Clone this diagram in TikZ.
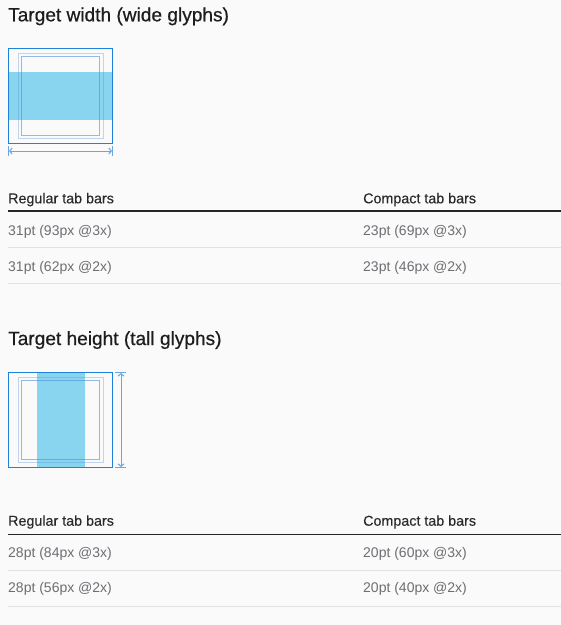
\documentclass[tikz,border=0pt]{standalone}
\usepackage{fontspec}
\setmainfont{Liberation Sans}
\newfontfamily\titlefont[FakeBold=0.6]{Liberation Sans}
\newfontfamily\headfont[FakeBold=0.25]{Liberation Sans}
\usetikzlibrary{arrows.meta}
\definecolor{bg}{HTML}{FAFAFA}
\definecolor{titlec}{HTML}{1D1D1F}
\definecolor{headc}{HTML}{2A2A2C}
\definecolor{rowc}{HTML}{6E6E73}
\definecolor{sepc}{HTML}{E2E2E4}
\definecolor{boxblue}{HTML}{1E82DC}
\definecolor{bandc}{HTML}{89D4EE}
\definecolor{innerblue}{HTML}{4F8FDB}
\definecolor{dimblue}{HTML}{6AA6E2}
\tikzset{
  title/.style={anchor=base west, inner sep=0pt, text=titlec, font=\titlefont\fontsize{19.1}{21}\selectfont},
  colhead/.style={anchor=base west, inner sep=0pt, text=headc, font=\headfont\fontsize{14.3}{16}\selectfont},
  cell/.style={anchor=base west, inner sep=0pt, text=rowc, font=\fontsize{14}{16}\selectfont},
  headrule/.style={draw=black!85, line width=1.2pt},
  seprule/.style={draw=sepc, line width=1pt},
  outerbox/.style={draw=boxblue, line width=1pt},
  band/.style={fill=bandc},
  ring1/.style={draw=innerblue, draw opacity=0.35, line width=1pt},
  ring2/.style={draw=innerblue, draw opacity=0.6, line width=1pt},
  dimline/.style={draw=dimblue, line width=1pt},
  dimarrow/.style={dimline, {Straight Barb[length=2.5pt,width=6pt]}-{Straight Barb[length=2.5pt,width=6pt]}},
}
\begin{document}
\begin{tikzpicture}[x=1pt,y=-1pt]
\fill[bg] (0,0) rectangle (561,625);
\useasboundingbox (0,0) rectangle (561,625);

% ---------- Section 1 ----------
\node[title] (t1) at (8,21.3) {Target width (wide glyphs)};
\fill[band] (8,72) rectangle (113,119.5);
\draw[ring1] (18,53.5) rectangle (103,138.5);
\draw[ring2] (21.5,56.5) rectangle (99.5,135);
\draw[outerbox] (8.5,48.5) rectangle (112.5,143.5);
\coordinate (w1) at (9,151);
\coordinate (w2) at (112,151);
\draw[dimline] (8.5,146) -- (8.5,156);
\draw[dimline] (112.5,146) -- (112.5,156);
\draw[dimarrow] (w1) -- (w2);

\node[colhead] (h1a) at (8,203.3) {Regular tab bars};
\node[colhead] (h1b) at (363,203.3) {Compact tab bars};
\draw[headrule] (8,211) -- (561,211);
\node[cell] (r1a) at (8,235) {31pt (93px @3x)};
\node[cell] (r1b) at (363,235) {23pt (69px @3x)};
\draw[seprule] (8,247.5) -- (561,247.5);
\node[cell] (r2a) at (8,271.5) {31pt (62px @2x)};
\node[cell] (r2b) at (363,271.5) {23pt (46px @2x)};
\draw[seprule] (8,283.5) -- (561,283.5);

% ---------- Section 2 ----------
\node[title] (t2) at (8,345) {Target height (tall glyphs)};
\fill[band] (36.5,372) rectangle (84.5,468);
\draw[ring1] (18,377) rectangle (103,462.5);
\draw[ring2] (21.5,380.5) rectangle (99.5,459);
\draw[outerbox] (8.5,372.5) rectangle (112.5,467.5);
\coordinate (v1) at (121,373);
\coordinate (v2) at (121,467);
\draw[dimline] (115,372.5) -- (125.5,372.5);
\draw[dimline] (115,467.5) -- (125.5,467.5);
\draw[dimarrow] (v1) -- (v2);

\node[colhead] (h2a) at (8,525.7) {Regular tab bars};
\node[colhead] (h2b) at (363,525.7) {Compact tab bars};
\draw[headrule] (8,534.3) -- (561,534.3);
\node[cell] (r3a) at (8,557.3) {28pt (84px @3x)};
\node[cell] (r3b) at (363,557.3) {20pt (60px @3x)};
\draw[seprule] (8,570.5) -- (561,570.5);
\node[cell] (r4a) at (8,592.7) {28pt (56px @2x)};
\node[cell] (r4b) at (363,592.7) {20pt (40px @2x)};
\draw[seprule] (8,606) -- (561,606);
\end{tikzpicture}
\end{document}
